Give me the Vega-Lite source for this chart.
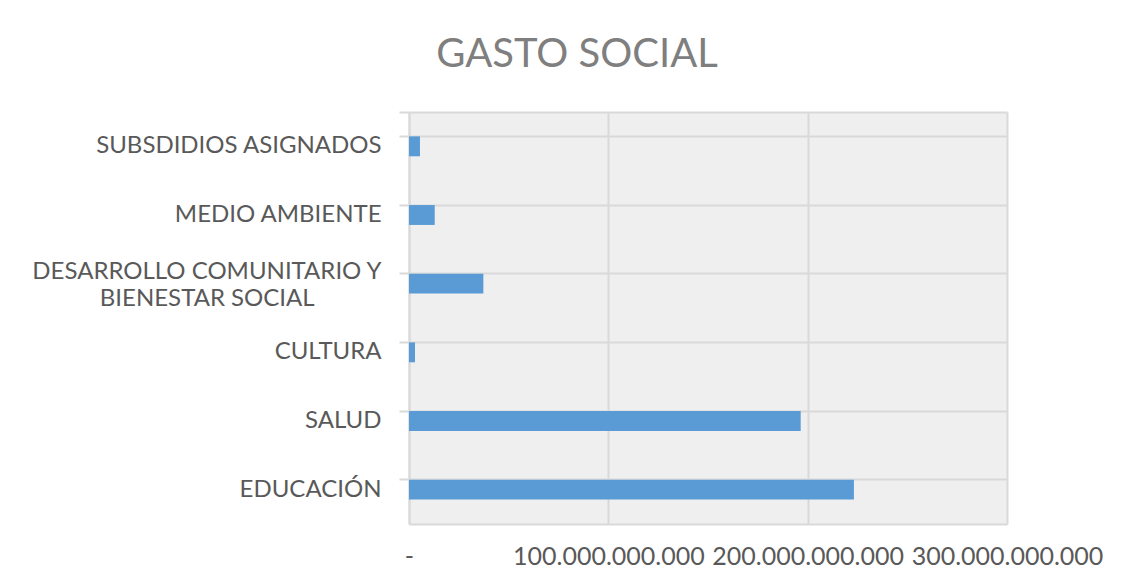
{
  "$schema": "https://vega.github.io/schema/vega-lite/v6.json",
  "autosize": {"type": "none"},
  "padding": {"left": 409, "top": 112, "right": 134, "bottom": 56},
  "width": 598,
  "height": 412,
  "background": "#ffffff",
  "title": {
    "text": "GASTO SOCIAL",
    "font": "Lato",
    "fontSize": 40,
    "fontWeight": "normal",
    "color": "#7f7f7f",
    "anchor": "middle",
    "dx": -131,
    "baseline": "alphabetic",
    "offset": -7
  },
  "data": {
    "values": [
      {"categoria": "SUBSDIDIOS ASIGNADOS", "gasto": 5500000000},
      {"categoria": "MEDIO AMBIENTE", "gasto": 12900000000},
      {"categoria": "DESARROLLO COMUNITARIO Y BIENESTAR SOCIAL", "gasto": 37300000000},
      {"categoria": "CULTURA", "gasto": 3000000000},
      {"categoria": "SALUD", "gasto": 196500000000},
      {"categoria": "EDUCACIÓN", "gasto": 223200000000}
    ]
  },
  "mark": {"type": "bar", "color": "#5b9bd5"},
  "encoding": {
    "y": {
      "field": "categoria",
      "type": "nominal",
      "sort": ["SUBSDIDIOS ASIGNADOS", "MEDIO AMBIENTE", "DESARROLLO COMUNITARIO Y BIENESTAR SOCIAL", "CULTURA", "SALUD", "EDUCACIÓN"],
      "scale": {"paddingInner": 0.71, "paddingOuter": 0.355},
      "axis": {
        "title": null,
        "bandPosition": 0,
        "tickExtra": true,
        "tickSize": 10,
        "tickColor": "#d9d9d9",
        "tickWidth": 2,
        "domainColor": "#d9d9d9",
        "domainWidth": 2,
        "grid": true,
        "gridColor": "#d9d9d9",
        "gridWidth": 2,
        "labelFont": "Lato",
        "labelFontSize": 24,
        "labelColor": "#595959",
        "labelPadding": 18,
        "labelLimit": 420,
        "labelLineHeight": 27,
        "labelOffset": {"condition": {"test": "datum.value == 'DESARROLLO COMUNITARIO Y BIENESTAR SOCIAL'", "value": -12}, "value": 0},
        "labelExpr": "datum.value == 'DESARROLLO COMUNITARIO Y BIENESTAR SOCIAL' ? ['DESARROLLO COMUNITARIO Y', 'BIENESTAR SOCIAL\u00a0\u00a0\u00a0\u00a0\u00a0\u00a0\u00a0\u00a0\u00a0\u00a0\u00a0\u200b'] : datum.value"
      }
    },
    "x": {
      "field": "gasto",
      "type": "quantitative",
      "scale": {"domain": [0, 300000000000], "nice": false},
      "axis": {
        "title": null,
        "values": [0, 100000000000, 200000000000, 300000000000],
        "labelExpr": "datum.value == 0 ? '-' : replace(format(datum.value, ',.0f'), regexp(',', 'g'), '.')",
        "ticks": false,
        "grid": true,
        "gridColor": "#d9d9d9",
        "gridWidth": 2,
        "domainColor": "#d9d9d9",
        "domainWidth": 2,
        "labelFont": "Lato",
        "labelFontSize": 25,
        "labelColor": "#595959",
        "labelPadding": 20,
        "labelLimit": 320,
        "labelFlush": false,
        "labelOverlap": false
      }
    }
  },
  "config": {"view": {"fill": "#efefef", "stroke": null}}
}
